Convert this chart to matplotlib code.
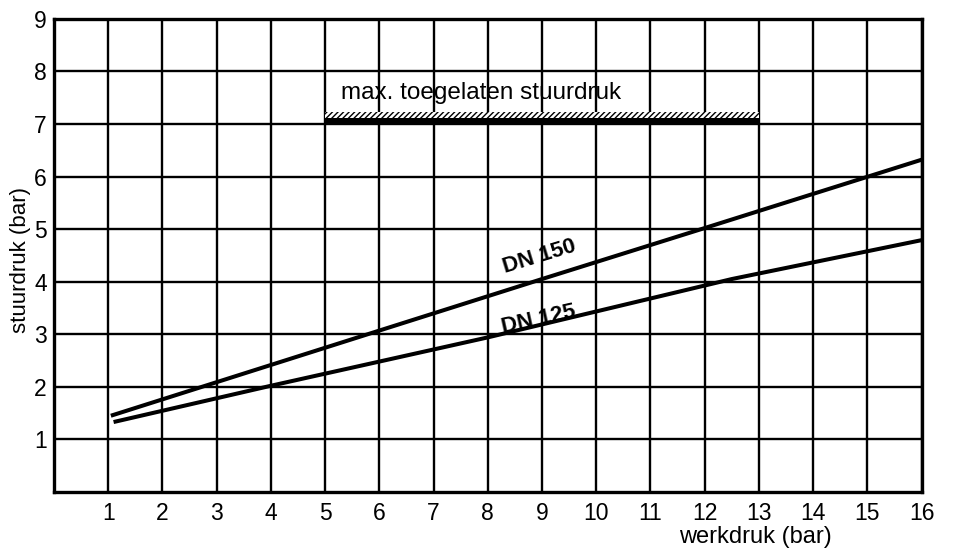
import matplotlib.pyplot as plt
from matplotlib.patches import Rectangle

plt.rcParams['font.family'] = ['Liberation Sans', 'DejaVu Sans']

# werkdruk (bar) vs stuurdruk (bar)
dn150_x = [1.05, 6, 9, 12, 16]
dn150_y = [1.45, 3.07, 4.05, 5.02, 6.32]
dn125_x = [1.1, 4, 8, 12.5, 16]
dn125_y = [1.33, 2.02, 2.94, 4.05, 4.79]

max_start, max_end, max_level = 5, 13, 7
x_ticks = list(range(1, 17))
y_ticks = list(range(1, 10))


def main():
    fig = plt.figure(figsize=(9.63, 5.54), dpi=100)
    ax = fig.add_axes([0.056, 0.112, 0.901, 0.854])
    ax.set_xlim(0, 16)
    ax.set_ylim(0, 9)
    ax.set_xticks(x_ticks)
    ax.set_yticks(y_ticks)
    ax.tick_params(axis='both', length=0, labelsize=16.5)
    ax.tick_params(axis='x', pad=7)
    ax.tick_params(axis='y', pad=5)
    ax.grid(True, color='black', linewidth=1.7)
    for s in ax.spines.values():
        s.set_linewidth(2.4)

    ax.plot(dn150_x, dn150_y, color='black', linewidth=2.9, solid_capstyle='butt')
    ax.plot(dn125_x, dn125_y, color='black', linewidth=2.9, solid_capstyle='butt')

    # max allowed pressure bar with hatching on top
    plt.rcParams['hatch.linewidth'] = 1.0
    ax.add_patch(Rectangle((max_start, max_level), max_end - max_start, 0.11,
                           facecolor='black', edgecolor='none', zorder=3))
    ax.add_patch(Rectangle((max_start, max_level + 0.11), max_end - max_start, 0.12,
                           facecolor='white', edgecolor='black', hatch='//////',
                           linewidth=0, zorder=3))
    ax.text(5.3, 7.58, "max. toegelaten stuurdruk", fontsize=17.5, va='center', ha='left')

    ax.text(8.96, 4.47, "DN 150", fontsize=16, fontweight='bold', rotation=17,
            ha='center', va='center')
    ax.text(8.94, 3.29, "DN 125", fontsize=16, fontweight='bold', rotation=12.5,
            ha='center', va='center')

    fig.text(0.784, 0.03, "werkdruk (bar)", fontsize=17, ha='center', va='center')
    fig.text(0.021, 0.53, "stuurdruk (bar)", fontsize=16, rotation=90,
             ha='center', va='center')

    fig.savefig("out.png", dpi=100)


if __name__ == '__main__':
    main()
